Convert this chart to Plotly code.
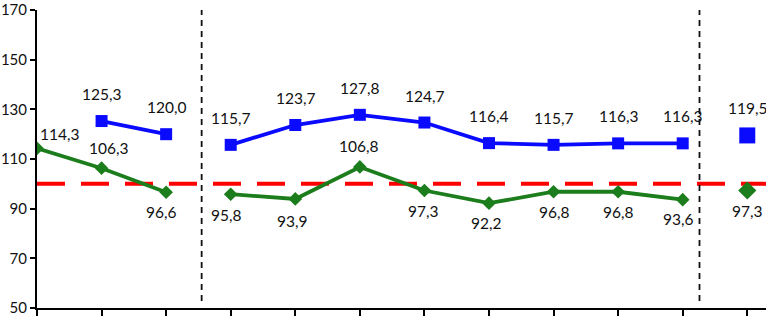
import plotly.graph_objects as go

# ---- data ----
positions = list(range(12))
blue_values = [None, 125.3, 120.0, 115.7, 123.7, 127.8, 124.7, 116.4, 115.7, 116.3, 116.3, 119.5]
green_values = [114.3, 106.3, 96.6, 95.8, 93.9, 106.8, 97.3, 92.2, 96.8, 96.8, 93.6, 97.3]
segments = [0, 0, 0, 1, 1, 1, 1, 1, 1, 1, 1, 2]
separators = [2.55, 10.26]
reference_level = 100
y_ticks = [50, 70, 90, 110, 130, 150, 170]

# label placement (style)
green_label_dy = [14, 20, -20, -21, -22, 21, -20, -20, -20, -20, -19, -20]
green_label_dx = [22, 7, -5, -4, -3, -1, -1, -2, 1, 0, -4, 0]
blue_label_dy = 27

BLUE = "#0a0aff"
GREEN = "#1b7d1b"
FONT = "Lato"

fig = go.Figure()

for seg in sorted(set(segments)):
    idx = [i for i, s in enumerate(segments) if s == seg]
    big = seg == 2
    xs = [positions[i] for i in idx]
    fig.add_trace(go.Scatter(
        x=xs, y=[blue_values[i] for i in idx], mode="lines+markers",
        line=dict(color=BLUE, width=3.8),
        marker=dict(symbol="square", size=16 if big else 12, color=BLUE),
        showlegend=False, hoverinfo="skip", connectgaps=False))
    fig.add_trace(go.Scatter(
        x=xs, y=[green_values[i] for i in idx], mode="lines+markers",
        line=dict(color=GREEN, width=3.8),
        marker=dict(symbol="diamond", size=14 if big else 10.5, color=GREEN),
        showlegend=False, hoverinfo="skip"))

def fmt(v):
    return f"{v:.1f}".replace(".", ",")

for i, v in enumerate(blue_values):
    if v is None:
        continue
    fig.add_annotation(x=positions[i], y=v, text=fmt(v), showarrow=False,
                       yshift=blue_label_dy, font=dict(family=FONT, size=15.5, color="#111"))
for i, v in enumerate(green_values):
    fig.add_annotation(x=positions[i], y=v, text=fmt(v), showarrow=False,
                       xshift=green_label_dx[i], yshift=green_label_dy[i],
                       font=dict(family=FONT, size=15.5, color="#111"))

x_max = 11.29
fig.add_shape(type="line", xref="x", yref="y", x0=0, x1=x_max,
              y0=reference_level, y1=reference_level,
              line=dict(color="#ff0000", width=4, dash="28px,16px"), layer="below")
for s in separators:
    fig.add_shape(type="line", xref="x", yref="y", x0=s, x1=s, y0=52.8, y1=171.3,
                  line=dict(color="#111", width=1.8, dash="6px,5px"))

fig.update_layout(
    width=766, height=316,
    margin=dict(l=37, r=0, t=6, b=6),
    paper_bgcolor="white", plot_bgcolor="white",
    font=dict(family=FONT, size=15, color="#111"),
    xaxis=dict(range=[0, x_max], tickvals=positions, ticktext=[""] * len(positions),
               showgrid=False, zeroline=False, showline=True, linecolor="black",
               linewidth=2, ticks="outside", ticklen=8, tickwidth=1.5, tickcolor="black"),
    yaxis=dict(range=[49.95, 170.05], tickvals=y_ticks, showgrid=False, zeroline=False,
               showline=True, linecolor="black", linewidth=2, ticks="outside",
               ticklen=5, tickwidth=1.5, tickcolor="black", ticklabeloverflow="allow",
               tickfont=dict(family=FONT, size=15, color="#111")),
)

fig.write_html("out.html", config={"displayModeBar": False},
               post_script="document.body.style.margin='0';document.body.style.overflow='hidden';")
